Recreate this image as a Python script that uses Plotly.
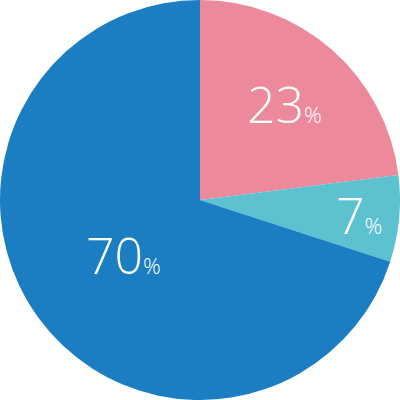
import math
import plotly.graph_objects as go

labels = ["A", "B", "C"]
values = [23, 7, 70]
colors = ["#EC8A9C", "#5DC2D0", "#1B7EC2"]
label_radius = [0.64, 0.80, 0.47]  # label placement as fraction of radius (style)

fig = go.Figure(go.Pie(
    labels=labels, values=values, sort=False, direction="clockwise", rotation=0,
    marker=dict(colors=colors, line=dict(width=0)),
    textinfo="none", hoverinfo="skip", showlegend=False,
    domain=dict(x=[0, 1], y=[0, 1]),
))

total = sum(values)
cum = 0
annotations = []
for v, f in zip(values, label_radius):
    mid = (cum + v / 2) / total * 2 * math.pi
    cum += v
    x = 0.5 + 0.5 * f * math.sin(mid)
    y = 0.5 + 0.5 * f * math.cos(mid)
    annotations.append(dict(
        x=x, y=y, xref="paper", yref="paper", showarrow=False,
        xanchor="center", yanchor="middle",
        text=f"{v}<span style='font-size:22px'>%</span>",
        font=dict(family="Open Sans", size=50, color="white", weight=300),
    ))

fig.update_layout(
    width=400, height=400, margin=dict(l=0, r=0, t=0, b=0),
    paper_bgcolor="white", plot_bgcolor="white",
    annotations=annotations,
)
fig.write_html(
    "out.html",
    config={"displayModeBar": False},
    post_script="document.body.style.margin='0';document.body.style.overflow='hidden';",
)
